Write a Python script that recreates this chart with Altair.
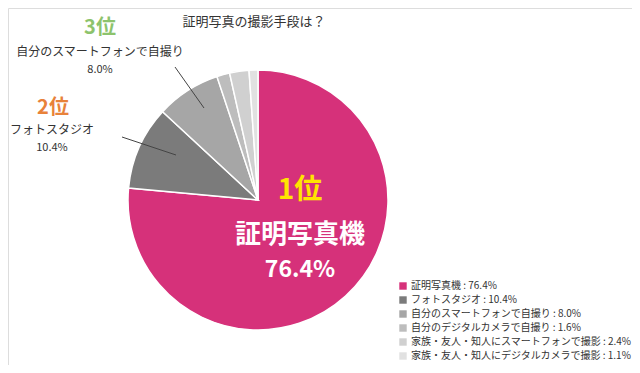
import altair as alt
import pandas as pd

categories = [
    "証明写真機",
    "フォトスタジオ",
    "自分のスマートフォンで自撮り",
    "自分のデジタルカメラで自撮り",
    "家族・友人・知人にスマートフォンで撮影",
    "家族・友人・知人にデジタルカメラで撮影",
]
values = [76.4, 10.4, 8.0, 1.6, 2.4, 1.1]
colors = ["#D6317A", "#7B7B7B", "#A6A6A6", "#BDBDBD", "#D0D0D0", "#E1E1E1"]
legend_labels = [f"{c} : {v:.1f}%" for c, v in zip(categories, values)]

title_text = "証明写真の撮影手段は？"
rank_labels = ["1位", "2位", "3位"]

FONT = "Noto Sans CJK JP"
OX, OY = 8, 8  # page margin offset

df = pd.DataFrame({
    "category": categories,
    "value": values,
    "order": list(range(len(values))),
    "legend": legend_labels,
})

base = alt.Chart(df)

pie = base.mark_arc(outerRadius=130, stroke="white", strokeWidth=1.5).encode(
    theta=alt.Theta("value:Q", stack=True),
    color=alt.Color(
        "legend:N",
        scale=alt.Scale(domain=legend_labels, range=colors),
        sort=legend_labels,
        legend=alt.Legend(
            title=None,
            orient="none",
            legendX=398 - OX,
            legendY=281 - OY,
            symbolType="square",
            symbolSize=55,
            symbolStrokeWidth=0,
            labelFont=FONT,
            labelFontSize=10,
            labelColor="#333333",
            rowPadding=4,
            labelOffset=3,
            labelLimit=300,
        ),
    ),
    order=alt.Order("order:Q"),
    x=alt.value(258 - OX),
    y=alt.value(200 - OY),
)


def txt(s, x, y, size, color, bold=False):
    return alt.Chart(pd.DataFrame({"t": [s]})).mark_text(
        font=FONT,
        fontSize=size,
        fontWeight="bold" if bold else "normal",
        color=color,
        align="center",
        baseline="middle",
    ).encode(text="t:N", x=alt.value(x - OX), y=alt.value(y - OY))


def rule(x1, y1, x2, y2):
    return alt.Chart(pd.DataFrame({"a": [0]})).mark_rule(
        color="#444444", strokeWidth=1
    ).encode(
        x=alt.value(x1 - OX), y=alt.value(y1 - OY),
        x2=alt.value(x2 - OX), y2=alt.value(y2 - OY),
    )


layers = [
    pie,
    txt(title_text, 254, 22, 13, "#333333"),
    txt(rank_labels[2], 100, 28, 20, "#8DC36C", True),
    txt(categories[2], 100, 52, 12, "#333333"),
    txt(f"{values[2]:.1f}%", 100, 70, 11, "#333333"),
    txt(rank_labels[1], 53, 108, 20, "#E8823A", True),
    txt(categories[1], 52, 130, 12, "#333333"),
    txt(f"{values[1]:.1f}%", 52, 148, 11, "#333333"),
    rule(175, 67, 204, 108),
    rule(122, 137, 176, 155),
    txt(rank_labels[0], 300, 191, 28, "#FFE500", True),
    txt(categories[0], 300, 235, 26, "#FFFFFF", True),
    txt(f"{values[0]:.1f}%", 300, 270, 23, "#FFFFFF", True),
]

chart = alt.layer(*layers).properties(
    width=624,
    height=357,
    autosize=alt.AutoSizeParams(type="none"),
    padding=0,
).configure_view(stroke=None).configure(background="white")

chart.save("out.html", embed_options={"renderer": "svg", "actions": False})
